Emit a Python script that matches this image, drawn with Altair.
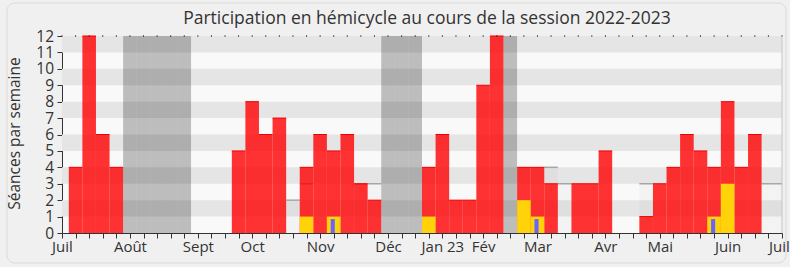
import altair as alt
import pandas as pd

TITLE = "Participation en hémicycle au cours de la session 2022-2023"
Y_TITLE = "Séances par semaine"

weeks = list(range(1, 53))
presence = [4, 12, 6, 4, 0, 0, 0, 0, 0, 0, 0, 0, 5, 8, 6, 7, 0, 4, 6, 5, 6, 3, 2,
            0, 0, 0, 4, 6, 2, 2, 9, 12, 0, 4, 4, 3, 0, 3, 3, 5, 0, 0, 1, 3, 4, 6,
            5, 4, 8, 4, 6, 0]

yellow_weeks = [18, 20, 27, 34, 35, 48, 49]
yellow_values = [1, 1, 1, 2, 1, 1, 3]

blue_weeks = [20, 35, 48]
blue_values = [0.85, 0.85, 0.85]

median_weeks = [17, 18, 22, 23, 36, 37, 43, 52, 53]
median_values = [2, 3, 3, 3, 4, 3, 3, 3, 3]

vacation_weeks = [5, 6, 7, 8, 9, 24, 25, 26, 33]

month_labels = ["Juil", "Août", "Sept", "Oct", "Nov", "Déc", "Jan 23", "Fév",
                "Mar", "Avr", "Mai", "Juin", "Juil"]
month_weeks = [0, 5, 10, 14, 19, 24, 28, 31, 35, 40, 44, 49, 53]

stripe_low = [1, 3, 5, 7, 9, 11]

X_MAX = 53
Y_MAX = 12
FONT = "Open Sans"
TXT = "#333333"

# ---- tables ----
df_red = pd.DataFrame({"week": weeks, "value": presence})
df_red = df_red[df_red["value"] > 0]
df_yel = pd.DataFrame({"week": yellow_weeks, "value": yellow_values})
df_blue = pd.DataFrame({"week": blue_weeks, "value": blue_values})
df_med = pd.DataFrame({"week": median_weeks, "value": median_values})
df_vac = pd.DataFrame({"week": vacation_weeks})
df_stripe = pd.DataFrame({"lo": stripe_low})
df_ticks = pd.DataFrame({"week": list(range(0, X_MAX + 1))})

label_expr = ""
for w, lab in zip(month_weeks, month_labels):
    label_expr += f"datum.value == {w} ? '{lab}' : "
label_expr += "''"

xs = alt.Scale(domain=[0, X_MAX], nice=False, zero=False)
ys = alt.Scale(domain=[0, Y_MAX], nice=False, zero=True)

xaxis = alt.Axis(values=list(range(0, X_MAX + 1)), labelExpr=label_expr, tickSize=5,
                 labelFontSize=15, labelFont=FONT, labelColor=TXT, domainColor=TXT,
                 tickColor=TXT, grid=False, title=None, labelOverlap=False,
                 labelBound=False, labelFlush=False, labelPadding=1,
                 labelOffset={"condition": {"test": f"datum.value == {X_MAX}",
                                            "value": -3}, "value": 0})
yaxis = alt.Axis(values=list(range(0, Y_MAX + 1)), tickSize=5, labelFontSize=15.5,
                 labelFont=FONT, labelColor=TXT, domainColor=TXT, tickColor=TXT,
                 grid=False, labelPadding=3.5, labelOverlap=False,
                 title=Y_TITLE, titleFont=FONT,
                 titleFontSize=15.5, titleFontWeight="normal", titleColor=TXT,
                 titleX=-48, titleY=97, titleAngle=-90, titleAlign="center",
                 titleBaseline="middle")


def X(field):
    return alt.X(field, type="quantitative", scale=xs, axis=xaxis)


def Y(field):
    return alt.Y(field, type="quantitative", scale=ys, axis=yaxis)


frame = alt.Chart(df_ticks).transform_filter("datum.week == 0").mark_rect(
    fill=None, stroke="#d9d9d9", strokeWidth=1, cornerRadius=8, clip=False
).encode(x=alt.value(-55), x2=alt.value(724), y=alt.value(-33), y2=alt.value(227))

stripes = alt.Chart(df_stripe).transform_calculate(
    hi="datum.lo + 1", x0="0", x1=str(X_MAX)
).mark_rect(color="#e5e5e5").encode(
    x=X("x0:Q"), x2="x1:Q", y=Y("lo:Q"), y2="hi:Q"
)

vacation = alt.Chart(df_vac).transform_calculate(
    x0="datum.week - 0.5", x1="datum.week + 0.5", y0="0", y1=str(Y_MAX)
).mark_rect(color="#000000", opacity=0.24).encode(
    x=X("x0:Q"), x2="x1:Q", y=Y("y0:Q"), y2="y1:Q"
)

med_calc = dict(x0="datum.week - 0.5", x1="datum.week + 0.5", y0="0")
median_area = alt.Chart(df_med).transform_calculate(**med_calc).mark_rect(
    color="#000000", opacity=0.025, clip=True
).encode(x=X("x0:Q"), x2="x1:Q", y=Y("y0:Q"), y2="value:Q")

median_line = alt.Chart(df_med).transform_calculate(**med_calc).mark_rule(
    color="#a6a6a6", strokeWidth=1.5, clip=True
).encode(x=X("x0:Q"), x2="x1:Q", y=Y("value:Q"))

red = alt.Chart(df_red).transform_calculate(
    x0="datum.week - 0.5", x1="datum.week + 0.5", y0="0"
).mark_rect(color="#ff0000", opacity=0.8).encode(
    x=X("x0:Q"), x2="x1:Q", y=Y("y0:Q"), y2="value:Q"
)

red_top = alt.Chart(df_red).transform_calculate(
    x0="datum.week - 0.5", x1="datum.week + 0.5"
).mark_rule(color="#f20000", strokeWidth=1).encode(
    x=X("x0:Q"), x2="x1:Q", y=Y("value:Q")
)

yellow = alt.Chart(df_yel).transform_calculate(
    x0="datum.week - 0.5", x1="datum.week + 0.5", y0="0"
).mark_rect(color="#ffd20a").encode(
    x=X("x0:Q"), x2="x1:Q", y=Y("y0:Q"), y2="value:Q"
)

blue = alt.Chart(df_blue).transform_calculate(
    x0="datum.week - 0.22", x1="datum.week + 0.08", y0="0"
).mark_rect(color="#6666ff").encode(
    x=X("x0:Q"), x2="x1:Q", y=Y("y0:Q"), y2="value:Q"
)

top_ticks = alt.Chart(df_ticks).transform_calculate(yt=str(Y_MAX)).mark_tick(
    orient="vertical", size=2, thickness=1, color="#222222"
).encode(x=X("week:Q"), y=Y("yt:Q"))

right_edge = alt.Chart(df_ticks).transform_filter(
    f"datum.week == {X_MAX}"
).transform_calculate(y0="0", y1=str(Y_MAX)).mark_rule(
    color="#c4c4c4", strokeWidth=1
).encode(x=X("week:Q"), y=Y("y0:Q"), y2="y1:Q")

chart = alt.layer(
    frame, stripes, vacation, median_area, median_line, red, red_top, yellow,
    blue, top_ticks, right_edge
).properties(
    width=720, height=197,
    title=alt.TitleParams(TITLE, font=FONT, fontSize=17.5, fontWeight="normal",
                          color=TXT, anchor="middle", dx=5, offset=-24.5),
    autosize=alt.AutoSizeParams(type="none"),
    padding={"left": 62, "top": 36, "right": 8, "bottom": 34},
).configure(background="#f0f0f0").configure_view(fill="#f9f9f9", stroke=None)

chart.save("out.html", embed_options={"renderer": "svg", "actions": False})
